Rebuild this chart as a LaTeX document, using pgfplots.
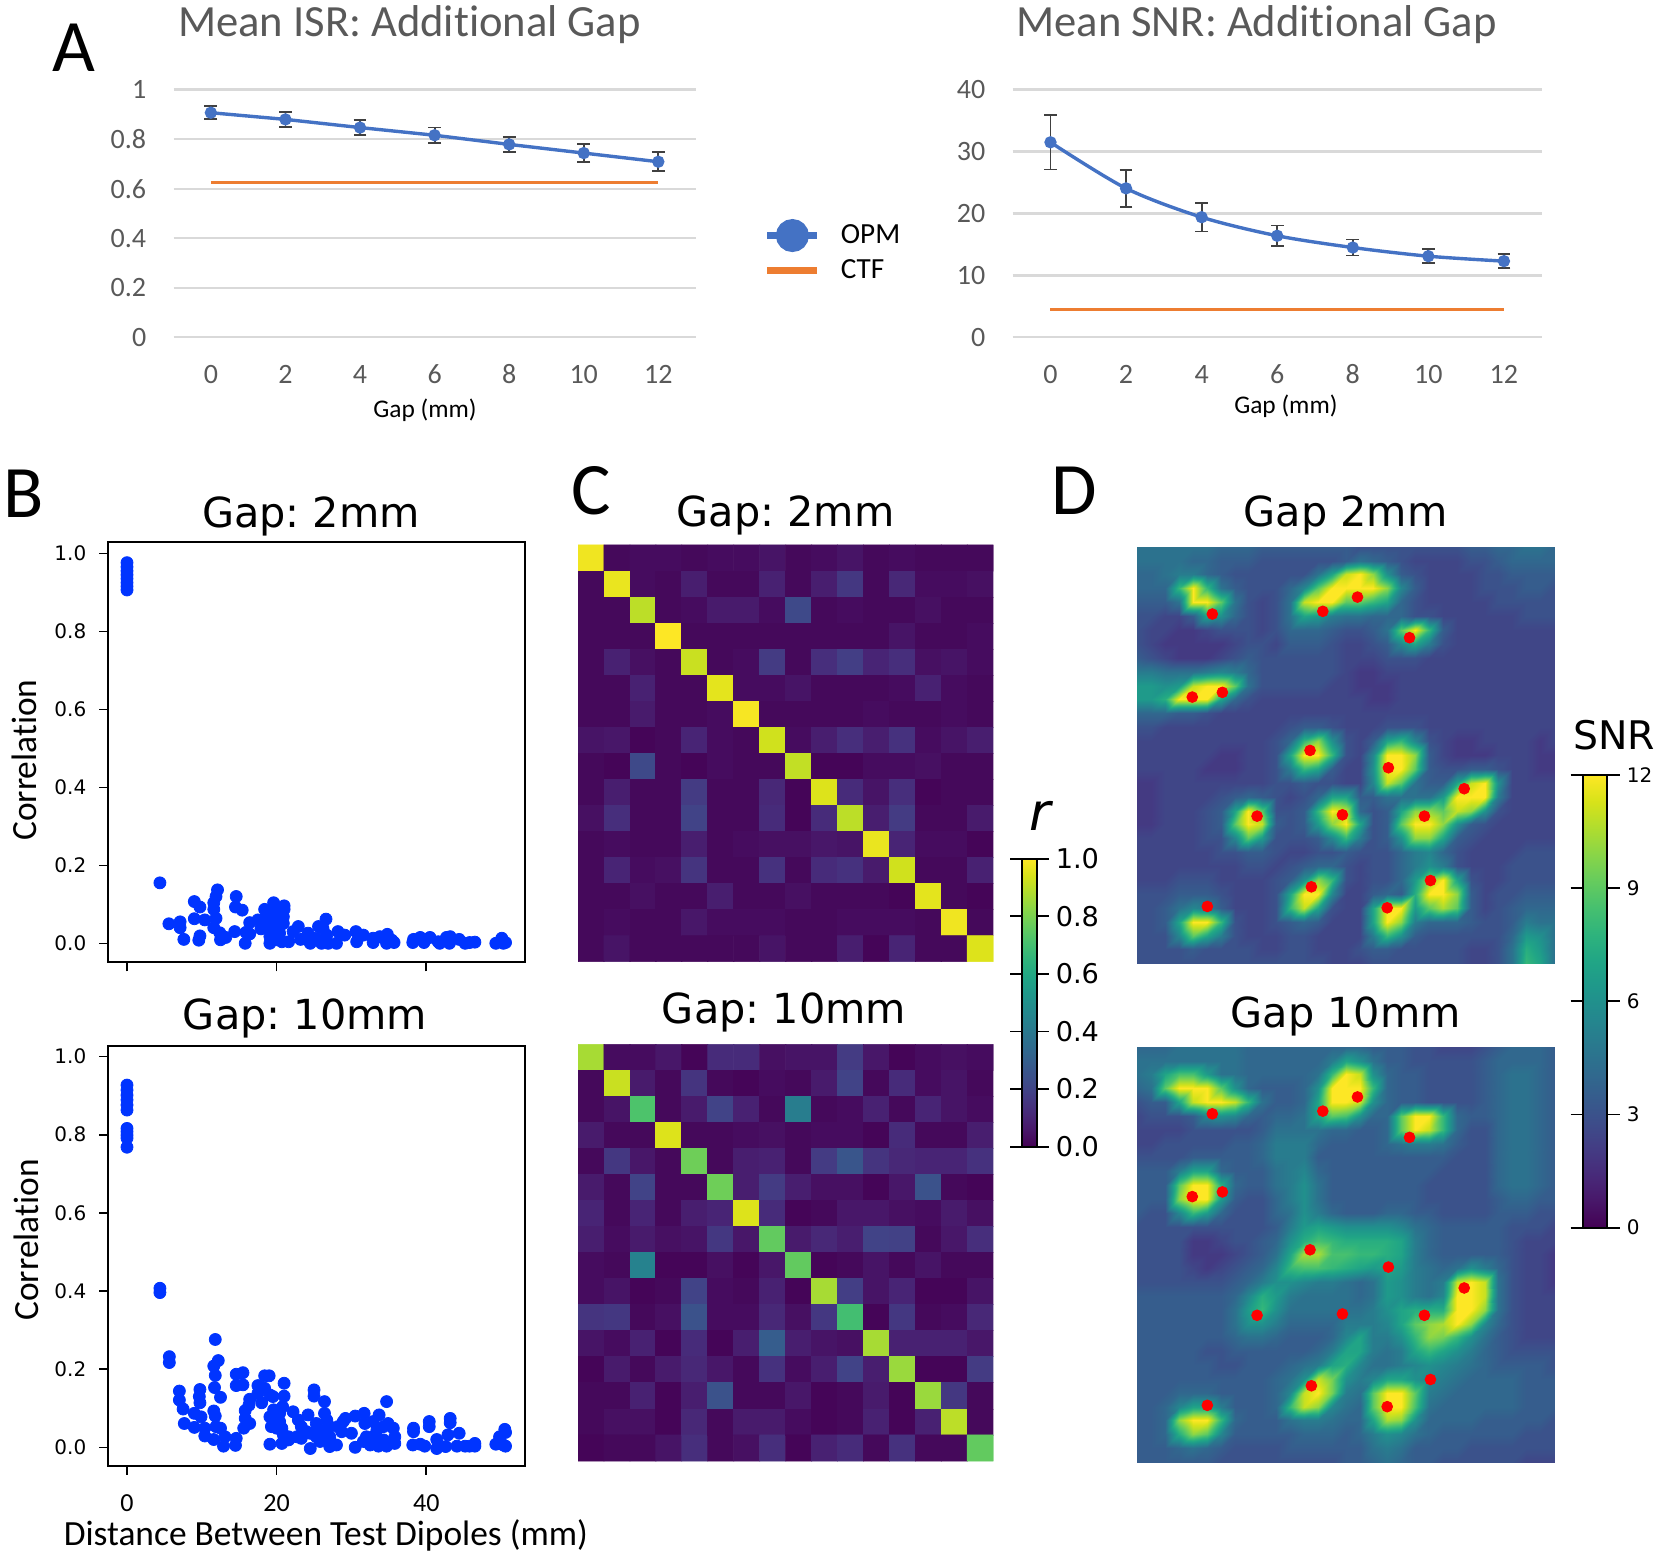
\documentclass[border=0pt]{standalone}
\usepackage{fontspec}
\usepackage{pgfplots}
\pgfplotsset{compat=1.18}
\setmainfont{Carlito}[Ligatures=NoCommon]
\newfontfamily\dejavu{DejaVu Sans}
\frenchspacing

\definecolor{gridgray}{RGB}{217,217,217}
\definecolor{txtgray}{RGB}{89,89,89}
\definecolor{xblue}{RGB}{68,114,196}
\definecolor{xorange}{RGB}{237,125,49}
\definecolor{ebar}{RGB}{64,64,64}
\definecolor{dotblue}{RGB}{0,52,255}

\pgfplotsset{
  excel/.style={scale only axis, width=261pt, height=123.8pt, clip=false,
    xmin=-1, xmax=13, xtick={0,2,4,6,8,10,12},
    axis line style={draw=none}, major tick length=0pt,
    ymajorgrids, grid style={gridgray, line width=1.2pt},
    tick label style={font=\fontsize{14}{16}\selectfont, text=txtgray, /pgf/number format/assume math mode=true},
    xticklabel style={anchor=center, yshift=-18.4pt},
    yticklabel style={anchor=east, inner sep=0pt, xshift=-13.5pt},
    title style={font=\fontsize{22.3}{26}\selectfont, text=txtgray, at={(axis description cs:0.5,1)}, anchor=base},
    xlabel style={font=\fontsize{12.7}{15}\selectfont, anchor=center}},
  opm/.style={xblue, line width=1.7pt, mark=*, mark size=2.2pt, mark options={fill=xblue, draw=xblue},
    error bars/.cd, y dir=both, y explicit,
    error bar style={ebar, line width=0.9pt},
    error mark options={rotate=90, mark size=3.2pt, ebar, line width=0.9pt}},
  ctf/.style={xorange, line width=1.5pt, mark=none},
  scat/.style={scale only axis, width=208.35pt, xmin=-2.5, xmax=53.2,
    xtick={0,20,40}, ytick={0,0.2,0.4,0.6,0.8,1}, tick align=outside, tick pos=left,
    major tick length=4.5pt, major tick style={black, line width=0.8pt},
    axis line style={line width=0.85pt},
    yticklabel style={font=\dejavu\fontsize{10}{12}\selectfont, xshift=-3pt,
      /pgf/number format/assume math mode=true, /pgf/number format/fixed,
      /pgf/number format/fixed zerofill, /pgf/number format/precision=1},
    xticklabel style={font=\fontsize{13}{15}\selectfont, anchor=center, yshift=-14.1pt,
      /pgf/number format/assume math mode=true},
    title style={font=\dejavu\fontsize{20.7}{24}\selectfont, at={(axis description cs:0.5,1)}, anchor=base},
    ylabel style={font=\fontsize{17.7}{21}\selectfont, anchor=center},
    xlabel style={font=\fontsize{17.7}{21}\selectfont, anchor=center}},
  pts/.style={only marks, mark=*, mark size=3pt, dotblue, mark options={fill=dotblue, draw=dotblue}},
  heat/.style={scale only axis, hide axis, enlargelimits=false, y dir=reverse, colormap/viridis,
    title style={font=\dejavu\fontsize{20.7}{24}\selectfont, at={(axis description cs:0.5,1)}, anchor=base}},
  cmat/.style={heat, width=207.65pt, height=208.35pt, xmin=-0.5, xmax=15.5, ymin=-0.5, ymax=15.5,
    point meta min=0, point meta max=1},
  dmap/.style={heat, width=208.35pt, xmin=-0.5, xmax=30.5, ymin=-0.5, ymax=30.5,
    point meta min=0, point meta max=12},
  cbar/.style={colorbar, colorbar style={anchor=north west, xtick=\empty, tick align=outside, axis on top=true,
    tick style={black, line width=0.9pt}, axis line style={line width=1pt}, #1}},
}

% source locations used in both SNR maps (grid units)
\pgfplotstableread{
x y
5.08 4.51
13.30 4.31
15.88 3.25
19.75 6.27
3.59 10.69
5.83 10.34
12.35 14.66
18.18 15.95
23.82 17.51
8.41 19.55
14.76 19.45
20.86 19.55
21.31 24.34
12.45 24.81
18.09 26.37
4.71 26.27
}\sources

\begin{document}
\begin{tikzpicture}
\path[use as bounding box] (0,0) rectangle (833pt,779.5pt);

% --- A ---
\begin{axis}[excel, at={(86.8pt,610.85pt)}, anchor=south west, ymin=0, ymax=1, ytick={0,0.2,0.4,0.6,0.8,1},
  title={Mean ISR: Additional Gap}, title style={xshift=-12.55pt, yshift=20.5pt},
  xlabel={Gap (mm)}, xlabel style={at={(axis description cs:0.5,0)}, xshift=-4.8pt, yshift=-36.7pt},
  legend style={at={(axis description cs:1.13,0.473)}, anchor=north west, draw=none, fill=none, inner sep=0pt,
    font=\fontsize{14.6}{17.3}\selectfont, legend cell align=left, row sep=2.7pt},
  legend image post style={mark size=6.5pt, line width=3.5pt},
  legend image code/.code={\path (1.16cm,0cm); \draw[mark repeat=2,mark phase=2,#1] plot coordinates {(0cm,0cm) (0.44cm,0cm) (0.88cm,0cm)};}]
\addplot[opm] coordinates {(0,0.907) +- (0,0.027) (2,0.880) +- (0,0.030) (4,0.847) +- (0,0.031) (6,0.816) +- (0,0.031) (8,0.779) +- (0,0.030) (10,0.744) +- (0,0.037) (12,0.709) +- (0,0.038)};
\addplot[ctf] coordinates {(0,0.626) (2,0.626) (4,0.626) (6,0.626) (8,0.626) (10,0.626) (12,0.626)};
\addlegendentry{OPM}
\addlegendentry{CTF}
\end{axis}

\begin{axis}[excel, width=264.5pt, at={(506.35pt,610.85pt)}, anchor=south west, ymin=0, ymax=40, ytick={0,10,20,30,40},
  title={Mean SNR: Additional Gap}, title style={xshift=-10.35pt, yshift=20.5pt},
  xlabel={Gap (mm)}, xlabel style={at={(axis description cs:0.5,0)}, xshift=4.35pt, yshift=-34.7pt}]
\addplot[smooth, opm] coordinates {(0,31.5) +- (0,4.4) (2,24.06) +- (0,3.0) (4,19.4) +- (0,2.3) (6,16.4) +- (0,1.65) (8,14.5) +- (0,1.3) (10,13.1) +- (0,1.15) (12,12.3) +- (0,1.1)};
\addplot[ctf] coordinates {(0,4.5) (2,4.5) (4,4.5) (6,4.5) (8,4.5) (10,4.5) (12,4.5)};
\end{axis}

% --- B ---
\begin{axis}[scat, height=210.15pt, at={(54.15pt,298.35pt)}, anchor=south west, ymin=-0.0487, ymax=1.029,
  xticklabels={},
  title={Gap: 2mm}, title style={xshift=-2.8pt, yshift=1.25pt},
  ylabel={Correlation}, ylabel style={at={(axis description cs:-0.201,0.481)}}]
\addplot[pts] coordinates {
(0,0.906)(0,0.915)(0,0.925)(0,0.935)(0,0.945)(0,0.955)(0,0.965)(0,0.976)
(4.4,0.155)(5.6,0.05)(7.1,0.055)(7.1,0.04)(7.6,0.01)(9,0.107)(9.75,0.093)(9,0.063)(10.4,0.06)(9.75,0.019)(9.6,0.008)
(12.1,0.137)(11.9,0.12)(11.6,0.104)(11.6,0.087)(11.9,0.064)(11.6,0.04)(12.4,0.027)(12.5,0.009)(13.2,0.015)
(14.6,0.12)(14.5,0.093)(15.4,0.085)(14.4,0.03)(15.8,0)(15.9,0.028)(16.4,0.024)(16.4,0.053)(17.5,0.06)(17.9,0.037)(18.4,0.087)
(19.6,0.104)(21,0.096)(21,0.087)(19.1,0)(19.1,0.017)(19.3,0.034)(19.3,0.051)(19.3,0.068)(19.6,0.085)(20,0.077)(20.4,0.06)
(20.4,0.043)(20.4,0.026)(20.7,0.004)(20.9,0.068)(20.9,0.051)(21.6,0.004)(20,0.009)(18.7,0.051)(18.7,0.068)
(22.2,0.03)(22.9,0.043)(23.2,0.01)(24.2,0.026)(24.5,0)(25.6,0.043)(26.6,0.062)(26.2,0.038)(26,0)(26.9,0)(25.3,0.013)(26.7,0.021)
(28,0)(28.2,0.03)(29.1,0.021)(30.6,0.03)(30.7,0.004)(31.6,0.021)(32.9,0.002)(32.9,0.013)(33.8,0.017)(34.8,0.023)(34.7,0)(35.7,0.002)(35.4,0.008)
(38.2,0.002)(38.3,0.01)(39.2,0.015)(39.7,0.002)(40.5,0.015)(41.6,0.004)(42.7,0.015)(43.2,0.017)(41.8,0)(43.1,0)(44.4,0.01)(45.2,0)(45.8,0.002)(46.5,0.003)
(49.3,0)(50.1,0.013)(50.6,0.002)(50.3,0)
};
\end{axis}

\begin{axis}[scat, height=209.85pt, at={(54.15pt,46.65pt)}, anchor=south west, ymin=-0.047, ymax=1.027,
  title={Gap: 10mm}, title style={xshift=-5.8pt, yshift=2.1pt},
  ylabel={Correlation}, ylabel style={at={(axis description cs:-0.196,0.538)}},
  xlabel={Distance Between Test Dipoles (mm)}, xlabel style={at={(axis description cs:0.522,-0.165)}}]
\addplot[pts] coordinates {
(0,0.927)(0,0.914)(0,0.901)(0,0.889)(0,0.876)(0,0.863)(0,0.816)(0,0.808)(0,0.799)(0,0.791)(0,0.768)
(4.4,0.407)(4.4,0.396)(5.66,0.232)(5.66,0.217)
(7,0.144)(7,0.121)(7.5,0.098)(7.66,0.061)(9,0.087)(9,0.051)(9.75,0.148)(9.67,0.13)(9.75,0.114)(9.9,0.078)(10.4,0.049)(10.4,0.029)
(11.8,0.276)(12.2,0.222)(11.6,0.208)(11.8,0.184)(11.7,0.153)(12.5,0.128)(11.6,0.093)(11.8,0.08)(11.9,0.053)(12.5,0.049)(11.6,0.02)(12.9,0.003)(13.1,0.027)
(14.6,0.023)(14.5,0.005)(14.6,0.187)(15.5,0.191)(14.6,0.158)(15.5,0.16)(15.6,0.049)(15.8,0.074)(15.8,0.094)(16.4,0.061)(16.4,0.123)(16.3,0.108)
(17.5,0.158)(18.4,0.183)(19,0.183)(18.4,0.151)(17.5,0.138)(18,0.114)(19.1,0.134)(19.5,0.13)(21,0.164)(21,0.131)(20.8,0.104)
(19.1,0.078)(19.1,0.008)(19.6,0.096)(19.6,0.061)(19.8,0.078)(20.4,0.087)(20.4,0.066)(20.7,0.049)(20.9,0.032)(20.7,0.01)(21.6,0.027)(21.6,0.019)(20,0.049)(19.3,0.053)
(22.2,0.091)(22.9,0.07)(23.3,0.053)(23.3,0.023)(24.2,0.083)(25,0.147)(25,0.131)(24.5,-0.003)(24.5,0.036)(25.3,0.061)(25.3,0.027)
(26.4,0.117)(26.4,0.087)(26.7,0.07)(26.2,0.044)(27.1,0.002)(28,0.006)(27.1,0.027)(28.2,0.053)(29.2,0.074)(28.7,0.04)(30,0.036)(30.5,0.08)(31.7,0.087)(31.8,0.061)(30.5,0)(31.6,0.015)
(32.9,0.066)(33.7,0.083)(34.7,0.117)(32.9,0.027)(33.4,0.044)(33.6,0.003)(34.3,0.053)(34.3,0.019)(34.9,0.061)(35.6,0.049)(35.8,0.027)(35.8,0.01)(34.7,0.003)
(38.3,0.049)(38.3,0.04)(38.2,0.006)(39.2,0.008)(39.8,0.003)(40.4,0.066)(40.4,0.053)(41.4,-0.003)(41.4,0.02)(42.6,0.002)(42.9,0.032)(43.2,0.074)(43.2,0.063)(44.4,0.036)(44.1,0.003)
(45.2,0.003)(45.8,0.003)(46.5,0.01)(46.5,0.003)(49.3,0.008)(49.8,0.027)(50.5,0.046)(50.6,0.038)(50.6,0.003)(50.3,0.006)
(22.7,0.027)(24,0.04)(25.8,0.04)(25.8,0.015)(27.1,0.053)(28.9,0.066)(32,0.027)(32.5,0.006)
};
\end{axis}

% --- C ---
\begin{axis}[cmat, at={(289pt,298.65pt)}, anchor=south west,
  title={Gap: 2mm}, title style={yshift=3.1pt}]
\addplot[matrix plot*, mesh/cols=16, point meta=explicit] table[row sep=\\, header=false,
  x expr={\coordindex-16*floor((\coordindex+0.5)/16)}, y expr={floor((\coordindex+0.5)/16)}, meta index=0] {
.98\\.02\\.03\\.03\\.02\\.03\\.03\\.05\\.02\\.03\\.05\\.02\\.03\\.02\\.02\\.02\\
.02\\.97\\.03\\.02\\.08\\.02\\.02\\.09\\.02\\.08\\.16\\.02\\.11\\.03\\.03\\.04\\
.02\\.02\\.9\\.02\\.03\\.07\\.07\\.03\\.22\\.02\\.03\\.02\\.02\\.04\\.02\\.02\\
.02\\.02\\.02\\1\\.02\\.02\\.02\\.02\\.02\\.02\\.02\\.02\\.05\\.02\\.02\\.03\\
.02\\.09\\.04\\.02\\.92\\.02\\.03\\.17\\.02\\.13\\.18\\.1\\.13\\.04\\.05\\.03\\
.02\\.02\\.09\\.02\\.02\\.96\\.03\\.03\\.05\\.02\\.02\\.02\\.03\\.09\\.03\\.02\\
.02\\.02\\.07\\.02\\.02\\.03\\.99\\.02\\.02\\.02\\.02\\.03\\.02\\.02\\.03\\.02\\
.05\\.06\\.01\\.02\\.1\\.03\\.02\\.93\\.03\\.08\\.13\\.08\\.14\\.03\\.05\\.08\\
.02\\.01\\.22\\.02\\.01\\.03\\.02\\.02\\.91\\.01\\.01\\.03\\.03\\.04\\.02\\.02\\
.02\\.08\\.02\\.02\\.17\\.02\\.02\\.11\\.01\\.95\\.12\\.05\\.13\\.01\\.02\\.02\\
.04\\.13\\.02\\.02\\.2\\.02\\.02\\.12\\.01\\.12\\.9\\.08\\.17\\.02\\.02\\.07\\
.02\\.03\\.02\\.02\\.08\\.02\\.03\\.04\\.04\\.06\\.05\\.97\\.1\\.03\\.03\\.01\\
.02\\.1\\.03\\.04\\.15\\.02\\.02\\.14\\.02\\.12\\.14\\.07\\.93\\.02\\.02\\.09\\
.02\\.02\\.04\\.02\\.02\\.08\\.02\\.02\\.04\\.02\\.02\\.02\\.01\\.96\\.02\\.01\\
.02\\.03\\.02\\.02\\.06\\.03\\.03\\.03\\.02\\.02\\.03\\.03\\.03\\.02\\.98\\.02\\
.02\\.05\\.02\\.02\\.02\\.02\\.02\\.05\\.02\\.02\\.08\\.01\\.1\\.02\\.02\\.95\\
};
\end{axis}

\begin{axis}[cmat, at={(289pt,49pt)}, anchor=south west,
  title={Gap: 10mm}, title style={xshift=-0.8pt, yshift=4.3pt},
  cbar={at={(1.0691,1.4454)}, width=7.35pt, height=144pt, ytick={0,0.2,0.4,0.6,0.8,1},
    major tick length=6pt,
    yticklabel style={font=\dejavu\fontsize{13.6}{16}\selectfont, /pgf/number format/assume math mode=true,
      /pgf/number format/fixed, /pgf/number format/fixed zerofill, /pgf/number format/precision=1}}]
\addplot[matrix plot*, mesh/cols=16, point meta=explicit] table[row sep=\\, header=false,
  x expr={\coordindex-16*floor((\coordindex+0.5)/16)}, y expr={floor((\coordindex+0.5)/16)}, meta index=0] {
.87\\.03\\.03\\.06\\.01\\.12\\.12\\.04\\.05\\.05\\.17\\.06\\.01\\.03\\.04\\.03\\
.02\\.92\\.07\\.02\\.15\\.02\\.01\\.03\\.02\\.07\\.2\\.02\\.12\\.03\\.05\\.02\\
.02\\.05\\.72\\.02\\.07\\.2\\.09\\.02\\.42\\.02\\.03\\.09\\.02\\.1\\.05\\.03\\
.07\\.02\\.02\\.95\\.02\\.02\\.03\\.04\\.02\\.03\\.03\\.01\\.12\\.02\\.02\\.08\\
.02\\.16\\.06\\.02\\.78\\.02\\.08\\.09\\.02\\.17\\.26\\.15\\.11\\.1\\.1\\.14\\
.07\\.02\\.2\\.02\\.02\\.78\\.08\\.17\\.08\\.04\\.04\\.01\\.06\\.25\\.02\\.01\\
.1\\.02\\.1\\.02\\.08\\.1\\.95\\.12\\.01\\.02\\.06\\.06\\.04\\.03\\.07\\.04\\
.08\\.03\\.07\\.04\\.05\\.16\\.06\\.76\\.07\\.11\\.08\\.2\\.19\\.02\\.06\\.13\\
.03\\.02\\.44\\.01\\.01\\.04\\.01\\.06\\.76\\.01\\.02\\.05\\.02\\.05\\.02\\.02\\
.03\\.05\\.01\\.02\\.2\\.03\\.02\\.09\\.01\\.87\\.18\\.05\\.1\\.01\\.01\\.05\\
.15\\.16\\.02\\.04\\.25\\.03\\.03\\.11\\.04\\.16\\.7\\.01\\.16\\.02\\.03\\.11\\
.05\\.03\\.09\\.01\\.12\\.01\\.08\\.29\\.08\\.05\\.04\\.87\\.09\\.09\\.09\\.06\\
.01\\.07\\.02\\.07\\.11\\.06\\.02\\.14\\.03\\.08\\.2\\.08\\.85\\.01\\.01\\.17\\
.02\\.02\\.09\\.01\\.08\\.25\\.02\\.02\\.06\\.01\\.02\\.07\\.01\\.85\\.16\\.02\\
.02\\.04\\.04\\.01\\.11\\.02\\.07\\.07\\.03\\.01\\.02\\.09\\.01\\.09\\.9\\.02\\
.01\\.02\\.02\\.05\\.13\\.02\\.04\\.13\\.01\\.09\\.12\\.02\\.14\\.02\\.02\\.76\\
};
\end{axis}

% --- D ---
\begin{axis}[dmap, height=208.3pt, at={(568.65pt,297.85pt)}, anchor=south west,
  title={Gap 2mm}, title style={yshift=4.05pt}]
\addplot[surf, shader=interp, mesh/cols=31, point meta=explicit] table[row sep=\\, header=false,
  x expr={(\coordindex-31*floor((\coordindex+0.5)/31)-15)*31/30+15}, y expr={(floor((\coordindex+0.5)/31)-15)*31/30+15}, meta index=0] {
4.5\\4.5\\4.5\\4.5\\4.5\\ 4.5\\4\\4\\4\\3.5\\ 3.5\\3.5\\3.5\\3.5\\3.5\\ 3.5\\3\\3\\3\\3\\ 3\\3\\3\\3\\3.5\\ 3.5\\4\\4\\4.5\\4.5\\ 4\\
4.5\\4.5\\4.5\\4.5\\4\\ 4\\3.5\\3.5\\3.5\\3\\ 3\\3\\3\\3\\3\\ 3.5\\4.5\\4\\3.5\\3\\ 2.5\\2.5\\2.5\\2.5\\3\\ 3\\3.5\\4\\4\\4\\ 4\\
4\\4\\4.5\\5\\5\\ 4\\3.5\\3\\3\\3\\ 3\\3\\3\\4.5\\7\\ 11\\12\\10\\6\\3.5\\ 3\\2.5\\2.5\\2.5\\2.5\\ 3\\3\\3.5\\3.5\\3.5\\ 3.5\\
4\\4\\4\\8\\12\\ 8\\4.5\\3.5\\3\\3\\ 3\\4\\5.5\\9\\12\\ 12\\12\\12\\10\\5.5\\ 3.5\\2.5\\2.5\\2.5\\2.5\\ 3\\3\\3\\3.5\\3.5\\ 3\\
3.5\\3.5\\3.5\\4.5\\12\\ 12\\9\\4.5\\3\\2.5\\ 3\\4.5\\11\\12\\12\\ 9\\9\\8\\7\\4\\ 3\\2.5\\2.5\\2.5\\2.5\\ 2.5\\3\\3\\3\\3\\ 3\\
3\\3\\2.5\\2.5\\3.5\\ 7\\6\\4\\3\\2.5\\ 3\\4.5\\7\\6.5\\5\\ 4.5\\4.5\\4\\4\\4\\ 3\\3\\2.5\\2.5\\2.5\\ 2.5\\2.5\\2.5\\3\\3\\ 3\\
3\\2.5\\2.5\\2\\2\\ 2.5\\3\\3\\3\\2.5\\ 3\\4\\4\\4\\3.5\\ 3\\3\\3.5\\4.5\\9\\ 12\\8\\3.5\\2.5\\2.5\\ 2.5\\2.5\\2.5\\2.5\\2.5\\ 2.5\\
3\\2.5\\2\\2\\2\\ 2\\2\\2.5\\3\\3\\ 2.5\\3.5\\3.5\\3.5\\3\\ 2.5\\2.5\\3\\3.5\\5.5\\ 7\\5\\3\\2.5\\2.5\\ 2.5\\2.5\\2.5\\2.5\\2.5\\ 2.5\\
3.5\\3\\2.5\\2\\2\\ 2\\2.5\\3\\3.5\\3\\ 3\\3\\3\\3\\3\\ 2.5\\2.5\\2.5\\3\\3\\ 3\\2.5\\2.5\\2.5\\2.5\\ 2.5\\2.5\\2.5\\2.5\\2.5\\ 2.5\\
5\\5\\4.5\\4.5\\4.5\\ 5\\5.5\\5\\4\\3\\ 3\\3\\3\\3\\3\\ 2.5\\2\\2\\2.5\\2.5\\ 2.5\\2.5\\2.5\\2.5\\2.5\\ 2.5\\2.5\\2.5\\2.5\\2.5\\ 2.5\\
6.5\\6.5\\6\\6.5\\11\\ 12\\12\\9\\4.5\\3\\ 3\\3\\3\\3\\2.5\\ 2.5\\2\\2\\2\\2.5\\ 2.5\\2.5\\2.5\\2.5\\2.5\\ 2.5\\2.5\\2.5\\2.5\\2.5\\ 2.5\\
6.5\\6.5\\7.5\\12\\12\\ 12\\7\\4\\3\\2.5\\ 2.5\\2.5\\2.5\\2.5\\2.5\\ 2.5\\2.5\\2\\2\\2.5\\ 2.5\\2.5\\2.5\\2.5\\2.5\\ 2.5\\2.5\\2.5\\2.5\\2.5\\ 2.5\\
4\\4\\4\\3.5\\3.5\\ 3\\2.5\\2.5\\2.5\\2.5\\ 2.5\\2.5\\2.5\\2.5\\2.5\\ 2.5\\2.5\\2.5\\2.5\\2.5\\ 2.5\\2.5\\2.5\\2.5\\2.5\\ 2.5\\2.5\\2.5\\2.5\\2.5\\ 2.5\\
3\\3\\2.5\\2.5\\2.5\\ 2.5\\2.5\\2.5\\2.5\\2.5\\ 2.5\\3\\3.5\\3.5\\3\\ 2.5\\2.5\\2.5\\3\\3\\ 3\\2.5\\2.5\\2.5\\2.5\\ 2.5\\2.5\\2.5\\2.5\\2.5\\ 2.5\\
2.5\\2.5\\2.5\\2.5\\2.5\\ 2.5\\2.5\\2.5\\2.5\\2.5\\ 3\\4\\8\\10\\6\\ 3\\2.5\\3.5\\7\\8\\ 5.5\\3\\2.5\\2\\2\\ 2.5\\2.5\\2.5\\2.5\\2\\ 2.5\\
2.5\\2.5\\2.5\\2.5\\2.5\\ 2.5\\2\\2\\2.5\\2.5\\ 3\\7\\12\\12\\8\\ 3\\2.5\\5.5\\12\\12\\ 10\\3.5\\2.5\\2\\2\\ 2\\2.5\\2.5\\2.5\\2\\ 2\\
2.5\\2.5\\2.5\\2.5\\2.5\\ 2\\2\\2\\2.5\\2.5\\ 3\\5\\8\\7\\3.5\\ 2.5\\2.5\\6\\12\\12\\ 9\\3.5\\3\\3\\3.5\\ 3.5\\3\\2.5\\2.5\\2\\ 2\\
2\\2\\2.5\\2.5\\2.5\\ 2.5\\2.5\\2.5\\2.5\\2.5\\ 3\\3\\3.5\\3\\3\\ 2.5\\2.5\\5.5\\11\\9\\ 4.5\\3.5\\3.5\\7\\11\\ 12\\6\\2.5\\2.5\\2.5\\ 2.5\\
2\\2\\2.5\\2.5\\2.5\\ 2.5\\3\\3.5\\4\\3.5\\ 3\\2.5\\3\\4\\7\\ 7\\3.5\\3.5\\4.5\\4.5\\ 4.5\\4.5\\6.5\\12\\12\\ 12\\5\\2.5\\2.5\\2.5\\ 2.5\\
2\\2\\2.5\\2.5\\2.5\\ 3\\3.5\\7\\12\\9\\ 3\\3\\3.5\\8\\12\\ 11\\4\\3\\3.5\\7\\ 10\\10\\9\\11\\10\\ 6\\3\\2.5\\2.5\\2.5\\ 2.5\\
2\\2\\2.5\\2.5\\2.5\\ 3\\3.5\\9\\12\\11\\ 3.5\\3\\3.5\\6.5\\10\\ 12\\7\\3\\3.5\\9\\ 12\\12\\10\\6\\3.5\\ 3\\2.5\\2.5\\2.5\\2.5\\ 2.5\\
2.5\\2.5\\2.5\\2.5\\2.5\\ 3\\3\\5.5\\9\\6.5\\ 3\\3\\3\\3.5\\5.5\\ 8\\5\\3\\3.5\\6\\ 10\\10\\7\\3.5\\3\\ 2.5\\2.5\\2.5\\2.5\\2.5\\ 2.5\\
2.5\\2.5\\2.5\\2.5\\2.5\\ 2.5\\3\\3\\3.5\\3.5\\ 3\\2.5\\2.5\\3\\3\\ 3.5\\3\\3\\3\\4\\ 5\\5.5\\4\\3\\2.5\\ 2.5\\2.5\\2.5\\3\\3\\ 3\\
2.5\\2.5\\2.5\\2.5\\2.5\\ 2.5\\2.5\\2.5\\3\\3\\ 2.5\\3\\3.5\\4\\4\\ 3\\2.5\\3\\3\\4\\ 5\\6\\5\\3\\2.5\\ 2.5\\2.5\\3\\3\\3\\ 3\\
2.5\\2.5\\2.5\\3\\3\\ 3\\2.5\\2.5\\2.5\\2.5\\ 3\\3.5\\6\\10\\8\\ 3\\2.5\\3\\3\\4\\ 6.5\\10\\12\\7\\3\\ 2.5\\2.5\\3\\3\\3\\ 3\\
3\\3\\3\\3.5\\3.5\\ 3.5\\3\\2.5\\2.5\\2.5\\ 3\\7\\12\\12\\5.5\\ 2.5\\2.5\\3.5\\4\\3.5\\ 7.5\\12\\12\\10\\3.5\\ 2.5\\3\\3\\3.5\\3.5\\ 3.5\\
3\\3\\3.5\\4.5\\5.5\\ 5\\3.5\\2.5\\2.5\\2.5\\ 3\\8\\11\\7\\3\\ 2.5\\2.5\\7\\12\\12\\ 6.5\\9\\10.5\\9\\3.5\\ 2.5\\3\\3.5\\4\\4\\ 4\\
3\\3\\3.5\\7\\12\\ 12\\8\\3\\2.5\\2.5\\ 3\\3.5\\4\\3.5\\2.5\\ 2.5\\2.5\\7\\12\\10\\ 5\\4\\4\\4\\3.5\\ 3\\3\\3.5\\5\\4.5\\ 4.5\\
3\\3\\3\\5.5\\9\\ 7\\5\\3\\2.5\\2.5\\ 2.5\\3\\3\\2.5\\2.5\\ 2.5\\2.5\\5\\8\\6\\ 3.5\\3\\3\\3\\3\\ 3\\3\\4\\6.5\\6\\ 4.5\\
3\\3\\3\\3\\3.5\\ 3\\3\\3\\3\\2.5\\ 2.5\\3\\3\\2.5\\2.5\\ 2.5\\3\\3.5\\3.5\\3\\ 3\\3\\3\\3\\2.5\\ 2.5\\3\\4.5\\7.5\\6.5\\ 4.5\\
3\\3\\3\\3\\3\\ 3\\3\\3\\3\\3\\ 3\\3\\3\\3\\2.5\\ 2.5\\2.5\\3\\3\\3\\ 3\\3\\3\\3\\2.5\\ 2.5\\3\\4.5\\8\\7\\ 4.5\\
};
\addplot[only marks, mark=*, mark size=2.7pt, red, mark options={fill=red, draw=red}] table[x=x, y=y] {\sources};
\end{axis}

\begin{axis}[dmap, height=207.65pt, at={(568.65pt,48.5pt)}, anchor=south west,
  title={Gap 10mm}, title style={yshift=3.75pt},
  cbar={at={(1.0703,1.6547)}, width=12pt, height=226.4pt, ytick={0,3,6,9,12},
    major tick length=6.3pt,
    yticklabel style={font=\dejavu\fontsize{10}{12}\selectfont, /pgf/number format/assume math mode=true}}]
\addplot[surf, shader=interp, mesh/cols=31, point meta=explicit] table[row sep=\\, header=false,
  x expr={(\coordindex-31*floor((\coordindex+0.5)/31)-15)*31/30+15}, y expr={(floor((\coordindex+0.5)/31)-15)*31/30+15}, meta index=0] {
4\\4\\4\\4.5\\4.5\\ 4.5\\4.5\\4.5\\4\\4\\ 4\\4\\4\\4\\4\\ 4\\4\\3.5\\3.5\\3.5\\ 3\\3\\2.5\\2.5\\2.5\\ 3\\3.5\\4\\4\\4\\ 3.5\\
4.5\\4.5\\4.5\\4.5\\4.5\\ 4.5\\4.5\\4.5\\4\\4\\ 4\\4\\4\\4\\5\\ 7\\6\\4.5\\3.5\\3.5\\ 3\\3\\3\\3\\3\\ 3.5\\4\\4\\4\\4\\ 3.5\\
4.5\\5\\7\\8.5\\8.5\\ 6.5\\4.5\\4.5\\4\\4\\ 4\\4\\4\\4.5\\8\\ 12\\11\\6\\4\\3.5\\ 3.5\\3\\3\\3\\3\\ 3.5\\4\\4.5\\4.5\\4\\ 3.5\\
4\\4.5\\9\\12\\12\\ 12\\9\\6\\4\\3.5\\ 3.5\\3.5\\4\\6\\12\\ 12\\12\\8\\4\\3.5\\ 3.5\\3\\3\\3\\3\\ 3.5\\4\\4.5\\4.5\\4\\ 3.5\\
3\\3.5\\3.5\\7\\11\\ 12\\12\\11\\8\\4.5\\ 3.5\\3.5\\4\\7\\12\\ 12\\11\\6\\4\\3.5\\ 3.5\\3\\3\\3\\3\\ 3.5\\4\\4.5\\4.5\\4\\ 3.5\\
2.5\\3\\3\\3\\3.5\\ 5.5\\6\\5.5\\4\\3.5\\ 4\\4\\4.5\\7\\9\\ 8.5\\6\\4\\4\\9\\ 12\\12\\8\\4\\3.5\\ 3.5\\4\\4.5\\4.5\\4\\ 3.5\\
2.5\\2.5\\2.5\\2.5\\3\\ 3\\3\\3\\3\\3.5\\ 4.5\\4.5\\4.5\\4.5\\4\\ 4\\3.5\\3.5\\4\\9\\ 12\\11\\8\\4\\3\\ 3\\4\\4.5\\4.5\\4\\ 3.5\\
2.5\\2.5\\3\\3\\3\\ 3\\3\\3.5\\3.5\\4\\ 5\\5\\5\\4\\3.5\\ 3.5\\3.5\\3.5\\4\\4.5\\ 5\\5\\4.5\\3.5\\3\\ 3\\4\\4.5\\4.5\\4\\ 3.5\\
3\\3\\3\\3\\3.5\\ 3.5\\3.5\\3.5\\3.5\\4\\ 5\\5\\5\\3.5\\3.5\\ 3.5\\3.5\\3.5\\3.5\\3.5\\ 3.5\\3.5\\3.5\\3\\3\\ 3\\4\\4.5\\4.5\\4\\ 3.5\\
3.5\\3.5\\3.5\\5\\7\\ 7\\4\\3.5\\3.5\\3.5\\ 4.5\\5\\5.5\\4\\3.5\\ 3.5\\3.5\\3.5\\3.5\\3.5\\ 3.5\\3.5\\3\\3\\3\\ 3\\4\\4.5\\4.5\\4\\ 3.5\\
3.5\\3.5\\3.5\\9\\12\\ 12\\7.5\\4\\3.5\\3.5\\ 4.5\\5\\6\\4.5\\3.5\\ 3.5\\3.5\\3.5\\3.5\\3.5\\ 3.5\\3\\3\\3\\3\\ 3\\4\\4.5\\4.5\\4\\ 3.5\\
3.5\\3.5\\3.5\\10\\12\\ 12\\6.5\\3.5\\3\\3\\ 4\\5\\6\\4.5\\3.5\\ 3.5\\3.5\\3.5\\3.5\\3.5\\ 3.5\\3\\3\\3\\3\\ 3\\3.5\\4\\4\\3.5\\ 3.5\\
3.5\\3\\3\\5.5\\8\\ 6.5\\4\\3\\3\\3\\ 4\\4.5\\6\\5\\4\\ 3.5\\3.5\\3.5\\4\\4\\ 3.5\\3.5\\3\\3\\3\\ 3\\3.5\\3.5\\3.5\\3\\ 3\\
3\\3\\3\\3\\3\\ 3\\3\\3\\3\\3\\ 3.5\\5\\6.5\\7\\6.5\\ 6\\6\\6\\6\\5.5\\ 4.5\\4\\3.5\\3.5\\3.5\\ 3.5\\3.5\\3\\3\\3\\ 2.5\\
3\\3\\3\\3\\2\\ 2\\2.5\\3\\3\\3.5\\ 4\\6\\7.5\\8.5\\8\\ 7.5\\7.5\\7.5\\7.5\\7\\ 5\\4\\3.5\\3.5\\3.5\\ 3.5\\3.5\\3\\2.5\\2.5\\ 2.5\\
3\\3\\3\\3\\2\\ 2\\2\\2.5\\3\\3.5\\ 4.5\\7\\10.5\\10.5\\8.5\\ 8.5\\8\\8\\7.5\\7\\ 5\\4\\3.5\\3.5\\3.5\\ 3.5\\3.5\\3\\2.5\\2.5\\ 2\\
3\\3\\3\\3\\2.5\\ 2\\2.5\\3\\3.5\\4\\ 5.5\\8\\8.5\\8.5\\8\\ 7.5\\7\\6.5\\7\\6.5\\ 5\\4.5\\4\\4.5\\6\\ 5\\4\\3\\2.5\\2.5\\ 2\\
3\\3\\3\\3\\3\\ 3\\3\\3.5\\4\\5\\ 6\\6\\5.5\\5\\5\\ 4.5\\4\\4.5\\6.5\\6\\ 5\\4.5\\5\\11\\12\\ 11\\4.5\\3\\2.5\\2.5\\ 2\\
3.5\\3.5\\3.5\\3.5\\3.5\\ 3.5\\3.5\\4\\5.5\\7.5\\ 6.5\\5\\4.5\\4.5\\4.5\\ 4.5\\4\\4.5\\6.5\\6\\ 5\\4.5\\5.5\\12\\12\\ 11\\4.5\\3\\2.5\\2.5\\ 2.5\\
3.5\\3.5\\3.5\\3.5\\3.5\\ 3.5\\3.5\\4.5\\6.5\\8\\ 6\\4.5\\4.5\\4.5\\4.5\\ 4.5\\4.5\\5\\6\\7\\ 7.5\\7.5\\7.5\\12\\12\\ 10\\4.5\\3\\2.5\\2.5\\ 2.5\\
3.5\\3.5\\3.5\\3.5\\3.5\\ 3.5\\3.5\\4.5\\6\\6\\ 5\\4\\4\\4\\4\\ 5\\5\\5\\5.5\\7\\ 9\\10\\10.5\\12\\10\\ 5.5\\4\\3\\2.5\\2.5\\ 2.5\\
3.5\\3.5\\3.5\\3.5\\3.5\\ 3.5\\3.5\\4\\4.5\\4.5\\ 4\\3.5\\3.5\\3.5\\4\\ 5.5\\7\\5\\5\\6\\ 8\\10\\9.5\\8\\6\\ 4.5\\3.5\\3\\2.5\\2.5\\ 2.5\\
3.5\\3.5\\3.5\\3.5\\3.5\\ 3\\3\\3.5\\3.5\\3.5\\ 3.5\\3.5\\3.5\\4\\5\\ 7\\7\\5\\4.5\\5\\ 7\\8\\7\\6\\5\\ 4\\3.5\\3\\3\\3\\ 3\\
3.5\\3.5\\3.5\\3.5\\3.5\\ 3.5\\3\\3\\3.5\\3.5\\ 3.5\\4\\4.5\\5\\7\\ 7.5\\5.5\\4.5\\4.5\\5\\ 5.5\\6\\5.5\\5\\4.5\\ 4\\3.5\\3.5\\3.5\\3.5\\ 3\\
3.5\\3.5\\3.5\\3.5\\3.5\\ 3.5\\3.5\\3.5\\3.5\\3.5\\ 4\\4.5\\6\\11\\9.5\\ 6\\5\\5.5\\7\\7\\ 6\\5.5\\5\\4.5\\4\\ 4\\4\\4\\3.5\\3.5\\ 3.5\\
3.5\\3.5\\3.5\\4\\4\\ 4\\3.5\\3.5\\3.5\\3.5\\ 4\\5.5\\11\\12\\9.5\\ 5\\4.5\\9\\12\\12\\ 9\\5\\4.5\\4\\4\\ 4\\4\\4\\3.5\\3.5\\ 3.5\\
3.5\\3.5\\4\\5.5\\7\\ 7\\5\\3.5\\3.5\\3.5\\ 4\\8\\11\\10\\5.5\\ 4.5\\4\\9\\12\\12\\ 8.5\\4.5\\4\\4\\4\\ 4\\4\\4\\3.5\\3.5\\ 3.5\\
3.5\\3.5\\4\\10\\12\\ 12\\8\\4\\3.5\\3.5\\ 3.5\\4.5\\5\\5\\4.5\\ 4\\4\\7\\10.5\\10\\ 6\\4\\4\\4\\4\\ 3.5\\3.5\\3.5\\3.5\\3.5\\ 3\\
3.5\\3.5\\4\\7.5\\10\\ 9\\5.5\\3.5\\3.5\\3.5\\ 3.5\\3.5\\4\\4\\4\\ 3.5\\4\\5\\6\\5.5\\ 4.5\\4\\3.5\\3.5\\3.5\\ 3.5\\3.5\\3.5\\3\\3\\ 3\\
3.5\\3.5\\3.5\\4\\4.5\\ 4\\3.5\\3\\3\\3\\ 3\\3.5\\3.5\\3.5\\3.5\\ 3.5\\3.5\\4.5\\5\\4.5\\ 3.5\\3.5\\3.5\\3.5\\3\\ 3\\3\\3\\3\\3\\ 3\\
3.5\\3.5\\3.5\\3.5\\3.5\\ 3.5\\3\\3\\3\\3\\ 3\\3\\3\\3\\3\\ 3.5\\3.5\\4\\4.5\\4\\ 3.5\\3.5\\3\\3\\3\\ 3\\3\\3\\2.5\\2.5\\ 2.5\\
};
\addplot[only marks, mark=*, mark size=2.7pt, red, mark options={fill=red, draw=red}] table[x=x, y=y] {\sources};
\end{axis}

% panel letters and colour bar captions
\node[anchor=base, font=\fontsize{37}{40}\selectfont] at (37pt,743.5pt) {A};
\node[anchor=base, font=\fontsize{37}{40}\selectfont] at (12pt,520.5pt) {B};
\node[anchor=base, font=\fontsize{37}{40}\selectfont] at (295.5pt,522pt) {C};
\node[anchor=base, font=\fontsize{37}{40}\selectfont] at (537pt,522pt) {D};
\node[anchor=base, font=\dejavu\itshape\fontsize{26}{30}\selectfont] at (520pt,364pt) {r};
\node[anchor=base, font=\dejavu\fontsize{19.7}{24}\selectfont] at (807pt,404.5pt) {SNR};
\end{tikzpicture}
\end{document}
